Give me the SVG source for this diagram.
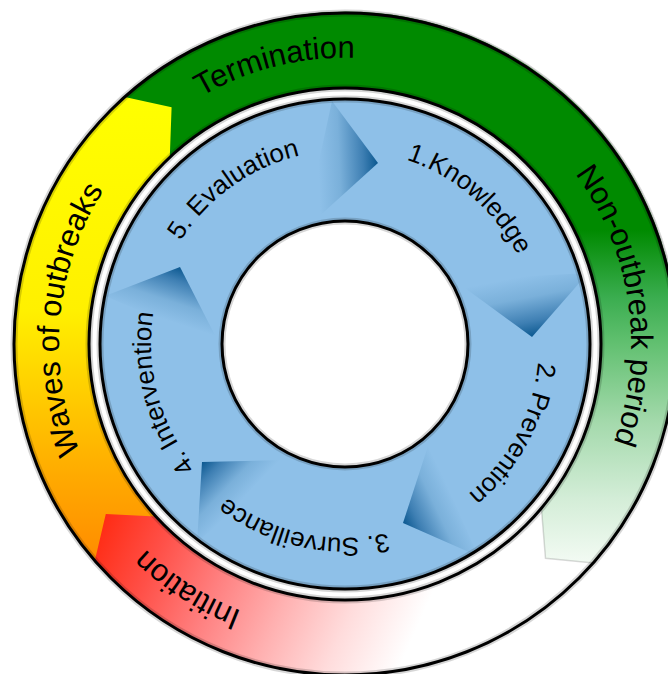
<svg xmlns="http://www.w3.org/2000/svg" width="668" height="674" viewBox="0 0 668 674">
<defs>
  <linearGradient id="gGreen" gradientUnits="userSpaceOnUse" x1="0" y1="230" x2="0" y2="565">
    <stop offset="0" stop-color="#008a00"/>
    <stop offset="0.2" stop-color="#3aad4f"/>
    <stop offset="0.33" stop-color="#5fbf6e"/>
    <stop offset="0.57" stop-color="#a3d9ab"/>
    <stop offset="0.8" stop-color="#d3edd7"/>
    <stop offset="1" stop-color="#f4fbf4"/>
  </linearGradient>
  <linearGradient id="gYellow" gradientUnits="userSpaceOnUse" x1="0" y1="100" x2="0" y2="570">
    <stop offset="0" stop-color="#ffff00"/>
    <stop offset="0.45" stop-color="#fff000"/>
    <stop offset="0.65" stop-color="#ffc800"/>
    <stop offset="0.8" stop-color="#ffaa00"/>
    <stop offset="1" stop-color="#ff8800"/>
  </linearGradient>
  <linearGradient id="gRed" gradientUnits="userSpaceOnUse" x1="100" y1="520" x2="405" y2="655">
    <stop offset="0" stop-color="#ff2a12"/>
    <stop offset="0.2" stop-color="#ff5048"/>
    <stop offset="0.4" stop-color="#ff8080"/>
    <stop offset="0.6" stop-color="#ffb0b0"/>
    <stop offset="0.8" stop-color="#ffdcdc"/>
    <stop offset="1" stop-color="#ffffff"/>
  </linearGradient>
  <linearGradient id="a1" gradientUnits="userSpaceOnUse" x1="318.5" y1="165.5" x2="378" y2="163">
    <stop offset="0" stop-color="#8ec0e8"/><stop offset="0.35" stop-color="#7ab0da"/><stop offset="0.75" stop-color="#3e7fb3"/><stop offset="1" stop-color="#0b5890"/>
  </linearGradient>
  <linearGradient id="a2" gradientUnits="userSpaceOnUse" x1="520.5" y1="277" x2="532" y2="337">
    <stop offset="0" stop-color="#8ec0e8"/><stop offset="0.35" stop-color="#7ab0da"/><stop offset="0.75" stop-color="#3e7fb3"/><stop offset="1" stop-color="#0b5890"/>
  </linearGradient>
  <linearGradient id="a3" gradientUnits="userSpaceOnUse" x1="453.5" y1="499" x2="403" y2="523">
    <stop offset="0" stop-color="#8ec0e8"/><stop offset="0.35" stop-color="#7ab0da"/><stop offset="0.75" stop-color="#3e7fb3"/><stop offset="1" stop-color="#0b5890"/>
  </linearGradient>
  <linearGradient id="a4" gradientUnits="userSpaceOnUse" x1="241.5" y1="500" x2="202" y2="462">
    <stop offset="0" stop-color="#8ec0e8"/><stop offset="0.35" stop-color="#7ab0da"/><stop offset="0.75" stop-color="#3e7fb3"/><stop offset="1" stop-color="#0b5890"/>
  </linearGradient>
  <linearGradient id="a5" gradientUnits="userSpaceOnUse" x1="163" y1="319" x2="180" y2="267">
    <stop offset="0" stop-color="#8ec0e8"/><stop offset="0.35" stop-color="#7ab0da"/><stop offset="0.75" stop-color="#3e7fb3"/><stop offset="1" stop-color="#0b5890"/>
  </linearGradient>
  <clipPath id="ringClip">
    <path clip-rule="evenodd" d="M100,344 A245,245 0 1 1 590,344 A245,245 0 1 1 100,344 Z M222,344 A123,123 0 1 0 468,344 A123,123 0 1 0 222,344 Z"/>
  </clipPath>
  <path id="tp-term" d="M59.7,364.4 A286,286 0 0 1 606.1,227.2"/>
  <path id="tp-non" d="M354.0,58.1 A286,286 0 0 1 434.3,615.7"/>
  <path id="tp-waves" d="M270.0,620.0 A286,286 0 0 1 321.1,59.0"/>
  <path id="tp-init" d="M555.2,537.9 A286,286 0 0 1 81.1,233.6"/>
  <path id="tp-s1" d="M221.7,194.2 A194,194 0 0 1 512.0,442.8"/>
  <path id="tp-s2" d="M464.4,191.1 A194,194 0 0 1 285.0,528.5"/>
  <path id="tp-s3" d="M524.2,418.2 A194,194 0 0 1 151.2,335.5"/>
  <path id="tp-s4" d="M362.2,537.2 A194,194 0 0 1 262.7,168.3"/>
  <path id="tp-s5" d="M170.2,428.1 A194,194 0 0 1 480.5,205.2"/>
</defs>
<style>
  .outline{fill:none;stroke:#000;stroke-width:3}
  .halo{fill:none;stroke:#000;stroke-opacity:0.16;stroke-width:7}
  .outer-label{font-family:"Liberation Sans",Arial,sans-serif;font-size:31px;fill:#000}
  .inner-label{font-family:"Liberation Sans",Arial,sans-serif;font-size:26px;fill:#000}
</style>
<rect width="668" height="674" fill="#ffffff"/>

<g id="outer-ring">
  <g id="phase-non-outbreak">
    <path d="M99.0,122.5 A331,331 0 0 1 593.3,562.9 L545.5,558.3 L541.4,508.2 A256,256 0 0 0 154.8,172.7 Z" fill="url(#gGreen)" stroke="#000" stroke-opacity="0.15" stroke-width="1.5"/>
    <text class="outer-label"><textPath href="#tp-term" startOffset="50%" text-anchor="middle">Termination</textPath></text>
    <text class="outer-label"><textPath href="#tp-non" startOffset="50%" text-anchor="middle">Non-outbreak period</textPath></text>
  </g>
  <g id="phase-waves">
    <path d="M132.2,597.6 A331,331 0 0 1 124.8,96.9 L171.6,107.2 L169.8,157.4 A256,256 0 0 0 180.4,540.1 Z" fill="url(#gYellow)"/>
    <text class="outer-label"><textPath href="#tp-waves" startOffset="50%" text-anchor="middle">Waves of outbreaks</textPath></text>
  </g>
  <g id="phase-initiation">
    <path d="M484.9,644.0 A331,331 0 0 1 94.8,560.7 L105.8,514.0 L156.0,516.6 A256,256 0 0 0 453.2,576.0 Z" fill="url(#gRed)"/>
    <text class="outer-label"><textPath href="#tp-init" startOffset="50%" text-anchor="middle">Initiation</textPath></text>
  </g>
  <circle class="halo" cx="345" cy="344" r="331"/>
  <circle class="halo" cx="345" cy="344" r="256"/>
  <circle class="outline" cx="345" cy="344" r="331"/>
  <circle class="outline" cx="345" cy="344" r="256"/>
</g>

<g id="inner-ring">
  <circle cx="345" cy="344" r="184" fill="none" stroke="#8ec0e8" stroke-width="122"/>
  <g id="connectors" clip-path="url(#ringClip)">
    <polygon points="332,101 378,163 304,230" fill="url(#a1)"/>
    <polygon points="454,280 588,273 532,337" fill="url(#a2)"/>
    <polygon points="429,443 478,556 403,523" fill="url(#a3)"/>
    <polygon points="287,460 197,543 202,462" fill="url(#a4)"/>
    <polygon points="105,296 180,267 220,345" fill="url(#a5)"/>
  </g>
  <circle class="halo" cx="345" cy="344" r="245"/>
  <circle class="halo" cx="345" cy="344" r="123"/>
  <circle class="outline" cx="345" cy="344" r="245"/>
  <circle class="outline" cx="345" cy="344" r="123"/>
  <g id="step-1"><text class="inner-label"><textPath href="#tp-s1" startOffset="50%" text-anchor="middle">1.Knowledge</textPath></text></g>
  <g id="step-2"><text class="inner-label"><textPath href="#tp-s2" startOffset="50%" text-anchor="middle">2. Prevention</textPath></text></g>
  <g id="step-3"><text class="inner-label"><textPath href="#tp-s3" startOffset="50%" text-anchor="middle">3. Surveillance</textPath></text></g>
  <g id="step-4"><text class="inner-label"><textPath href="#tp-s4" startOffset="50%" text-anchor="middle">4. Intervention</textPath></text></g>
  <g id="step-5"><text class="inner-label"><textPath href="#tp-s5" startOffset="50%" text-anchor="middle">5. Evaluation</textPath></text></g>
</g>
</svg>
